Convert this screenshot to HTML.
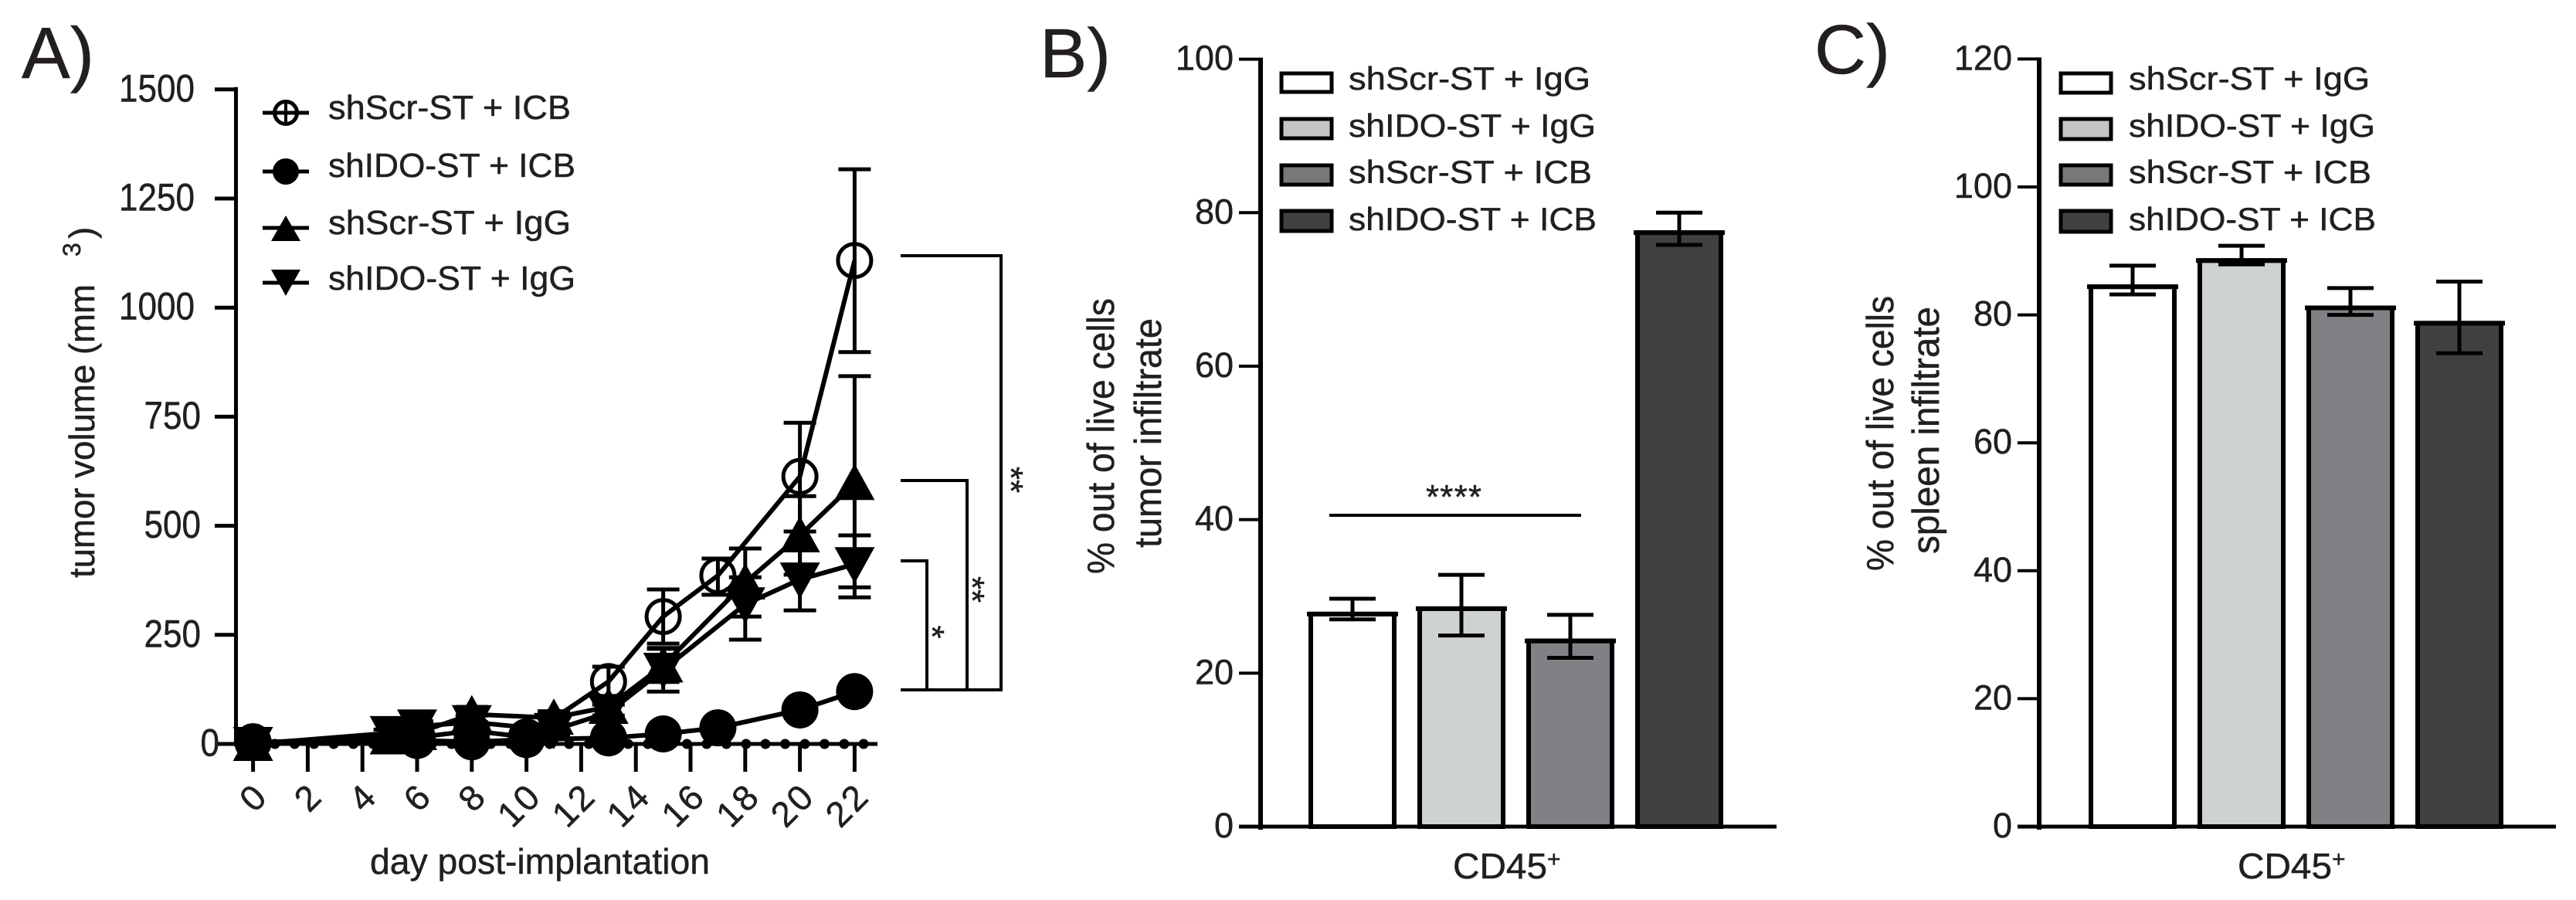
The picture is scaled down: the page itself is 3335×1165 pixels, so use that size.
<!DOCTYPE html>
<html lang="en">
<head>
<meta charset="utf-8">
<title>Tumor volume and CD45+ infiltrate</title>
<style>
html,body{margin:0;padding:0;background:#fff;}
svg{display:block;}
text{font-family:"Liberation Sans",Arial,sans-serif;fill:#231f20;stroke:#231f20;stroke-width:0.5;}
</style>
</head>
<body>
<svg id="figure" xmlns="http://www.w3.org/2000/svg" width="3335" height="1165" viewBox="0 0 3335 1165">
<rect width="3335" height="1165" fill="#fff"/>

<!-- Panel A static -->
<g id="panel-a">
<text x="28" y="101" font-size="94">A)</text>
<g>
<text transform="translate(122,748) rotate(-90)" font-size="46" textLength="380" lengthAdjust="spacingAndGlyphs">tumor volume (mm</text>
<text transform="translate(104,332) rotate(-90)" font-size="32">3</text>
<text transform="translate(122,309) rotate(-90)" font-size="46">)</text>
</g>
<text x="479" y="1131" font-size="46" textLength="440" lengthAdjust="spacingAndGlyphs">day post-implantation</text>

<g>
<g>
<line x1="340" x2="400" y1="146" y2="146" stroke="#000" stroke-width="5"/>
<line x1="370" x2="370" y1="130" y2="162" stroke="#000" stroke-width="4"/>
<circle cx="370" cy="146" r="14.5" fill="none" stroke="#000" stroke-width="5"/>
<text x="425" y="154" font-size="44" textLength="314" lengthAdjust="spacingAndGlyphs">shScr-ST + ICB</text>
</g>
<g>
<line x1="340" x2="400" y1="222" y2="222" stroke="#000" stroke-width="5"/>
<circle cx="370" cy="222" r="17" fill="#000"/>
<text x="425" y="229" font-size="44" textLength="320" lengthAdjust="spacingAndGlyphs">shIDO-ST + ICB</text>
</g>
<g>
<line x1="340" x2="400" y1="295" y2="295" stroke="#000" stroke-width="5"/>
<polygon points="370,279 389,312 351,312" fill="#000"/>
<text x="425" y="303" font-size="44" textLength="314" lengthAdjust="spacingAndGlyphs">shScr-ST + IgG</text>
</g>
<g>
<line x1="340" x2="400" y1="366" y2="366" stroke="#000" stroke-width="5"/>
<polygon points="370,383 389,349 351,349" fill="#000"/>
<text x="425" y="375" font-size="44" textLength="320" lengthAdjust="spacingAndGlyphs">shIDO-ST + IgG</text>
</g>
</g>

<g fill="none" stroke="#000" stroke-width="4">
<path d="M1166 331H1296V893H1166"/>
<path d="M1166 622H1252V893"/>
<path d="M1166 726H1200V893"/>
</g>
<text transform="translate(1192,818) rotate(90)" text-anchor="middle" font-size="44">*</text>
<text transform="translate(1244,763) rotate(90)" text-anchor="middle" font-size="44">**</text>
<text transform="translate(1294,621) rotate(90)" text-anchor="middle" font-size="44">**</text>
</g>

<!-- Panel B static -->
<g id="panel-b">
<text x="1346" y="100" font-size="90" textLength="92" lengthAdjust="spacingAndGlyphs">B)</text>
<text transform="translate(1442,743) rotate(-90)" font-size="49" textLength="357" lengthAdjust="spacingAndGlyphs">% out of live cells</text>
<text transform="translate(1503,709) rotate(-90)" font-size="49" textLength="297" lengthAdjust="spacingAndGlyphs">tumor infiltrate</text>
<text x="1881" y="1137" font-size="46" textLength="122" lengthAdjust="spacingAndGlyphs">CD45</text>
<text x="2003" y="1122" font-size="30">+</text>
<line x1="1721" x2="2047" y1="667" y2="667" stroke="#000" stroke-width="4"/>
<text x="1846" y="658" font-size="44" textLength="72" lengthAdjust="spacing">****</text>
<g stroke-linejoin="miter">
<g><rect x="1659" y="95" width="65" height="24" fill="#fff" stroke="#000" stroke-width="5"/><text x="1746" y="116" font-size="42" textLength="313" lengthAdjust="spacingAndGlyphs">shScr-ST + IgG</text></g>
<g><rect x="1659" y="154" width="65" height="25" fill="#c4c6c6" stroke="#000" stroke-width="5"/><text x="1746" y="177" font-size="42" textLength="320" lengthAdjust="spacingAndGlyphs">shIDO-ST + IgG</text></g>
<g><rect x="1659" y="214" width="65" height="25" fill="#77787a" stroke="#000" stroke-width="5"/><text x="1746" y="237" font-size="42" textLength="315" lengthAdjust="spacingAndGlyphs">shScr-ST + ICB</text></g>
<g><rect x="1659" y="273" width="65" height="26" fill="#404040" stroke="#000" stroke-width="5"/><text x="1746" y="298" font-size="42" textLength="321" lengthAdjust="spacingAndGlyphs">shIDO-ST + ICB</text></g>
</g>
</g>

<!-- Panel C static -->
<g id="panel-c">
<text x="2349" y="95" font-size="90" textLength="98" lengthAdjust="spacingAndGlyphs">C)</text>
<text transform="translate(2451,739) rotate(-90)" font-size="49" textLength="356" lengthAdjust="spacingAndGlyphs">% out of live cells</text>
<text transform="translate(2510,717) rotate(-90)" font-size="49" textLength="320" lengthAdjust="spacingAndGlyphs">spleen infiltrate</text>
<text x="2897" y="1137" font-size="46" textLength="122" lengthAdjust="spacingAndGlyphs">CD45</text>
<text x="3019" y="1122" font-size="30">+</text>
<g>
<g><rect x="2668" y="95" width="65" height="25" fill="#fff" stroke="#000" stroke-width="5"/><text x="2756" y="116" font-size="42" textLength="312" lengthAdjust="spacingAndGlyphs">shScr-ST + IgG</text></g>
<g><rect x="2668" y="154" width="65" height="26" fill="#c4c6c6" stroke="#000" stroke-width="5"/><text x="2756" y="177" font-size="42" textLength="319" lengthAdjust="spacingAndGlyphs">shIDO-ST + IgG</text></g>
<g><rect x="2668" y="214" width="65" height="25" fill="#77787a" stroke="#000" stroke-width="5"/><text x="2756" y="237" font-size="42" textLength="314" lengthAdjust="spacingAndGlyphs">shScr-ST + ICB</text></g>
<g><rect x="2668" y="273" width="65" height="27" fill="#404040" stroke="#000" stroke-width="5"/><text x="2756" y="298" font-size="42" textLength="320" lengthAdjust="spacingAndGlyphs">shIDO-ST + ICB</text></g>
</g>
</g>
</svg>

<script>
// ---- Panel A data ----
const dayTicks = ['0','2','4','6','8','10','12','14','16','18','20','22'];
const volumeTicks = ['0','250','500','750','1000','1250','1500'];
const icbDays = [0,6,8,10,13,15,17,20,22];
const iggDays = [0,5,6,8,11,13,15,18,20,22];
const shScrIcb = [3,15,30,16,143,292,386,613,1108];
const shScrIcbHi = [5,22,40,25,177,354,425,736,1317];
const shScrIcbLo = [1,8,20,8,110,230,342,487,898];
const shIdoIcb = [5,8,5,10,14,23,37,78,120];
const shIdoIcbHi = [6,10,7,13,18,28,42,88,135];
const shIdoIcbLo = [4,6,3,7,10,18,32,68,105];
const shScrIgg = [0,15,25,68,60,85,180,370,478,598];
const shScrIggHi = [1,22,35,85,75,105,218,448,568,843];
const shScrIggLo = [0,8,15,50,45,65,142,292,388,359];
const shIdoIgg = [0,25,40,50,32,72,170,320,377,412];
const shIdoIggHi = [1,33,52,65,45,90,220,382,447,478];
const shIdoIggLo = [0,17,28,35,20,55,120,239,306,336];
const baselineDays = [0.8,1.52,2.23,2.95,3.67,4.39,5.1,5.82,6.54,7.26,7.98,8.69,9.41,10.13,10.85,11.56,12.28,13,13.72,14.44,15.15,15.87,16.59,17.31,18.03,18.74,19.46,20.18,20.9,21.62,22.33];

// ---- Panel B data ----
const tumorTicks = ['0','20','40','60','80','100'];
const tumorValues = [27.7,28.4,24.2,77.4];
const tumorHi = [29.7,32.8,27.6,80];
const tumorLo = [27,24.9,22,75.8];

// ---- Panel C data ----
const spleenTicks = ['0','20','40','60','80','100','120'];
const spleenValues = [84.4,88.5,81.1,78.7];
const spleenHi = [87.7,90.8,84.2,85.2];
const spleenLo = [83.2,87.9,80,74];

const barCategories = ['shScr-ST + IgG','shIDO-ST + IgG','shScr-ST + ICB','shIDO-ST + ICB'];
const barFills = ['#ffffff','#cfd2d2','#808184','#404040'];

const NS = 'http://www.w3.org/2000/svg';
function mk(tag, attrs, parent) {
  const n = document.createElementNS(NS, tag);
  for (const k in attrs) n.setAttribute(k, attrs[k]);
  parent.appendChild(n);
  return n;
}

// ---- Panel A axes ----
function xA(d) { return 327.6 + 35.4 * d; }
function yA(v) { return 963 - 0.5648 * v; }

const panelA = document.getElementById('panel-a');
const plotA = mk('g', {}, panelA);



const yAxisA = mk('line', {x1:305.5, x2:305.5, y1:yA(1500)-3, y2:yA(0)+3, stroke:'#000', 'stroke-width':5}, plotA);



const xAxisA = mk('line', {x1:303, x2:1136, y1:yA(0), y2:yA(0), stroke:'#000', 'stroke-width':5}, plotA);



const labelEnd = {1:284, 3:260, 4:252};
volumeTicks.forEach(function (t) {
  const y = yA(+t);
  const tick = mk('line', {x1:278, x2:306, y1:y, y2:y, stroke:'#000', 'stroke-width':5}, plotA);
  
  
  const lab = mk('text', {x:labelEnd[t.length], y:y+15.5, 'text-anchor':'end', 'font-size':50, textLength:t.length*24.5, lengthAdjust:'spacingAndGlyphs'}, plotA);
  lab.textContent = t;
  
  
});
dayTicks.forEach(function (t) {
  const x = xA(+t);
  const tick = mk('line', {x1:x, x2:x, y1:yA(0), y2:999, stroke:'#000', 'stroke-width':5}, plotA);
  
  
  const lab = mk('text', {transform:'translate(' + (x + 22) + ',1033) rotate(-45)', 'text-anchor':'end', 'font-size':46, 'letter-spacing':3}, plotA);
  lab.textContent = t;
  
  
});
baselineDays.forEach(function (d) {
  const dot = mk('circle', {cx:xA(d), cy:yA(0), r:6.5, fill:'#000'}, plotA);
  
  
});

function marker(kind, x, y, parent) {
  let m;
  if (kind === 'open') m = mk('circle', {cx:x, cy:y, r:21.5, fill:'none', stroke:'#000', 'stroke-width':5}, parent);
  if (kind === 'filled') m = mk('circle', {cx:x, cy:y, r:24, fill:'#000'}, parent);
  if (kind === 'up') m = mk('polygon', {points:x+','+(y-25)+' '+(x+26)+','+(y+22)+' '+(x-26)+','+(y+22), fill:'#000'}, parent);
  if (kind === 'down') m = mk('polygon', {points:x+','+(y+25)+' '+(x+26)+','+(y-22)+' '+(x-26)+','+(y-22), fill:'#000'}, parent);
  return m;
}

function drawSeries(name, kind, days, vals, hi, lo) {
  const g = mk('g', {}, plotA);
  
  
  const pts = days.map(function (d, i) { return xA(d) + ',' + yA(vals[i]); }).join(' ');
  const line = mk('polyline', {points:pts, fill:'none', stroke:'#000', 'stroke-width':6}, g);
  
  
  days.forEach(function (d, i) {
    const x = xA(d);
    const err = mk('path', {d:'M'+(x-21)+' '+yA(hi[i])+'H'+(x+21)+'M'+x+' '+yA(hi[i])+'V'+yA(lo[i])+'M'+(x-21)+' '+yA(lo[i])+'H'+(x+21), fill:'none', stroke:'#000', 'stroke-width':5}, g);
    
    
    const m = marker(kind, x, yA(vals[i]), g);
    
    
  });
}
drawSeries('series-shscr-icb', 'open', icbDays, shScrIcb, shScrIcbHi, shScrIcbLo);
drawSeries('series-shido-icb', 'filled', icbDays, shIdoIcb, shIdoIcbHi, shIdoIcbLo);
drawSeries('series-shscr-igg', 'up', iggDays, shScrIgg, shScrIggHi, shScrIggLo);
drawSeries('series-shido-igg', 'down', iggDays, shIdoIgg, shIdoIggHi, shIdoIggLo);

// ---- Bar panels ----
function drawBars(cfg) {
  const parent = document.getElementById(cfg.id);
  const y = function (v) { return 1070 - cfg.unit * v; };
  const x = function (i) { return cfg.first + 141 * i; };
  const g = mk('g', {}, parent);
  
  

  cfg.values.forEach(function (v, i) {
    const cx = x(i);
    const bar = mk('rect', {x:cx-54, y:y(v), width:108, height:1070-y(v), fill:barFills[i], stroke:'#000', 'stroke-width':6}, g);
    
    
    const cap = mk('line', {x1:cx-59, x2:cx+59, y1:y(v), y2:y(v), stroke:'#000', 'stroke-width':6}, g);
    
    
    const err = mk('path', {d:'M'+(cx-30)+' '+y(cfg.hi[i])+'H'+(cx+30)+'M'+cx+' '+y(cfg.hi[i])+'V'+y(cfg.lo[i])+'M'+(cx-30)+' '+y(cfg.lo[i])+'H'+(cx+30), fill:'none', stroke:'#000', 'stroke-width':5}, g);
    
    
  });

  const top = +cfg.ticks[cfg.ticks.length - 1];
  const yAxis = mk('line', {x1:cfg.axis, x2:cfg.axis, y1:y(top)-2, y2:1074, stroke:'#000', 'stroke-width':6}, g);
  
  
  const xAxis = mk('line', {x1:cfg.axis-28, x2:cfg.xEnd, y1:1070, y2:1070, stroke:'#000', 'stroke-width':5}, g);
  
  

  cfg.ticks.forEach(function (t) {
    const ty = y(+t);
    const tick = mk('line', {x1:cfg.axis-28, x2:cfg.axis, y1:ty, y2:ty, stroke:'#000', 'stroke-width':4}, g);
    
    
    const lab = mk('text', {x:cfg.axis-35, y:ty+14, 'text-anchor':'end', 'font-size':45}, g);
    lab.textContent = t;
    
    
  });
}
drawBars({id:'panel-b', unit:9.934, first:1751, axis:1632, xEnd:2300, ticks:tumorTicks, values:tumorValues, hi:tumorHi, lo:tumorLo});
drawBars({id:'panel-c', unit:8.28, first:2761, axis:2640, xEnd:3309, ticks:spleenTicks, values:spleenValues, hi:spleenHi, lo:spleenLo});
</script>
</body>
</html>
